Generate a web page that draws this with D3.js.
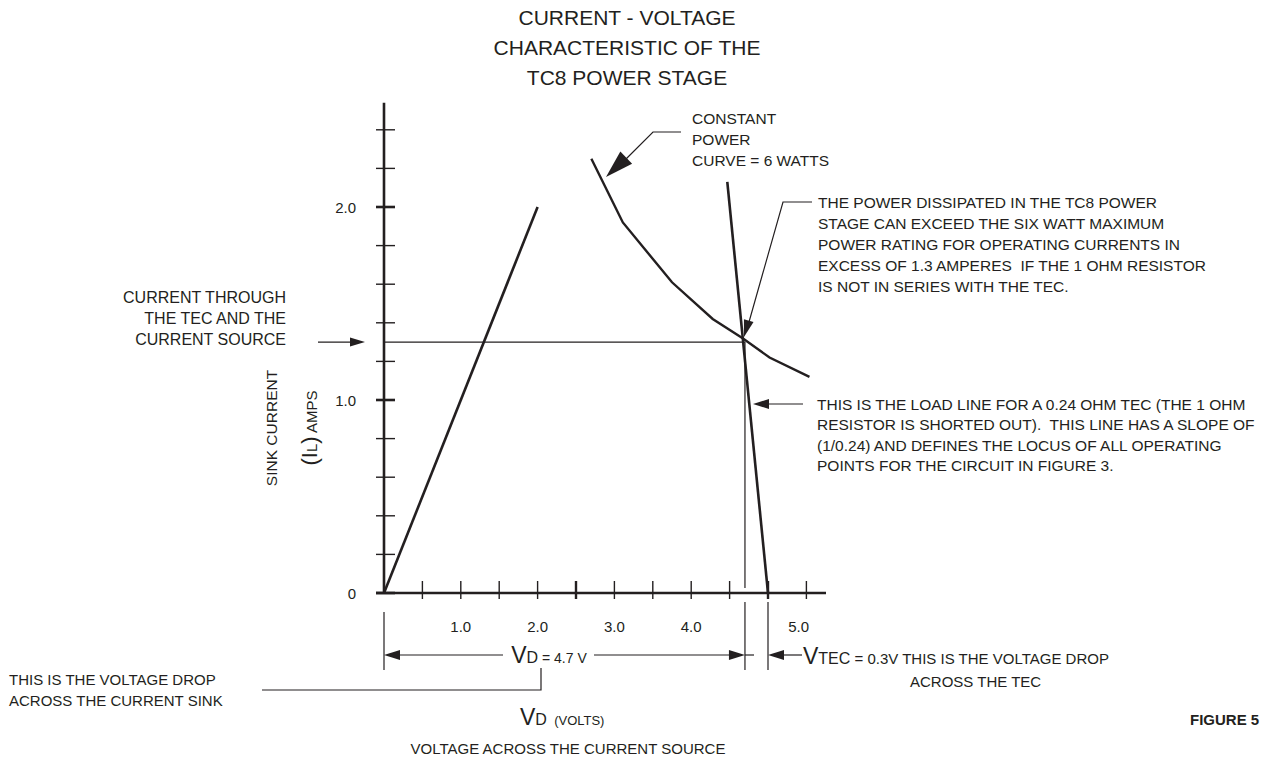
<!DOCTYPE html>
<html><head><meta charset="utf-8">
<script src="https://cdn.jsdelivr.net/npm/d3@7"></script>
<style>body{margin:0;background:#fff}svg{display:block}text{font-family:"Liberation Sans",Arial,sans-serif;fill:#231f20;white-space:pre}</style>
</head><body><svg id="c" width="1279" height="759"></svg>
<script>
// ---- data ----
const titleLines = ["CURRENT - VOLTAGE", "CHARACTERISTIC OF THE", "TC8 POWER STAGE"];
const xMinorTicks = [0.5, 1.0, 1.5, 2.0, 2.5, 3.0, 3.5, 4.0, 4.5, 5.0, 5.5];
const xMajorTicks = [2.5, 5.0];
const xTickLabels = ["1.0", "2.0", "3.0", "4.0", "5.0"];
const xTickLabelValues = [1.0, 2.0, 3.0, 4.0, 5.4];
const yMinorTicks = [0.2, 0.4, 0.6, 0.8, 1.2, 1.4, 1.6, 1.8, 2.2, 2.4];
const yMajorTicks = [0, 1.0, 2.0];
const yTickLabels = ["0", "1.0", "2.0"];
const sinkLine = [[0, 0], [2.0, 2.0]];
const powerCurve = [[2.70, 2.25], [3.11, 1.92], [3.75, 1.61], [4.28, 1.42], [4.67, 1.32], [5.02, 1.22], [5.54, 1.12]];
const loadLine = [[4.47, 2.13], [5.0, 0]];
const operatingPoint = [4.7, 1.3];
const tecEnd = 5.0;
const powerNote = ["THE POWER DISSIPATED IN THE TC8 POWER", "STAGE CAN EXCEED THE SIX WATT MAXIMUM", "POWER RATING FOR OPERATING CURRENTS IN", "EXCESS OF 1.3 AMPERES  IF THE 1 OHM RESISTOR", "IS NOT IN SERIES WITH THE TEC."];
const loadNote = ["THIS IS THE LOAD LINE FOR A 0.24 OHM TEC (THE 1 OHM", "RESISTOR IS SHORTED OUT).  THIS LINE HAS A SLOPE OF", "(1/0.24) AND DEFINES THE LOCUS OF ALL OPERATING", "POINTS FOR THE CIRCUIT IN FIGURE 3."];
const currentNote = ["CURRENT THROUGH", "THE TEC AND THE", "CURRENT SOURCE"];
const constNote = ["CONSTANT", "POWER", "CURVE = 6 WATTS"];
const sinkNote = ["THIS IS THE VOLTAGE DROP", "ACROSS THE CURRENT SINK"];

// ---- drawing ----
const svg = d3.select("#c");
const x = d3.scaleLinear().domain([0, 5]).range([384, 768]);
const y = d3.scaleLinear().domain([0, 2]).range([593, 207]);
const ink = "#231f20";

function arrow(tip, dx, dy, len, wid) {
  const n = Math.hypot(dx, dy), ux = dx / n, uy = dy / n;
  const bx = tip[0] - ux * len, by = tip[1] - uy * len;
  const px = -uy * wid / 2, py = ux * wid / 2;
  svg.append("path").attr("d", `M${tip[0]},${tip[1]}L${bx + px},${by + py}L${bx - px},${by - py}Z`).attr("fill", ink);
}
function seg(pts, w) {
  svg.append("path").attr("d", d3.line()(pts)).attr("fill", "none").attr("stroke", ink).attr("stroke-width", w || 1.2);
}
function lines(arr, x0, y0, dy, size, anchor) {
  const t = svg.append("text").attr("font-size", size).attr("text-anchor", anchor || "start");
  arr.forEach((s, i) => t.append("tspan").attr("x", x0).attr("y", y0 + i * dy).text(s));
  return t;
}

// title
lines(titleLines, 627, 25, 30, 21, "middle");

// axes
seg([[x(0), y(2.54)], [x(0), y(0)]], 2.6);
seg([[376, y(0)], [826, y(0)]], 2.6);
svg.selectAll(".yt").data(yMinorTicks).join("line").attr("x1", 376).attr("x2", 395)
  .attr("y1", d => y(d)).attr("y2", d => y(d)).attr("stroke", ink).attr("stroke-width", 1.4);
svg.selectAll(".ytM").data(yMajorTicks).join("line").attr("x1", 376).attr("x2", 395)
  .attr("y1", d => y(d)).attr("y2", d => y(d)).attr("stroke", ink).attr("stroke-width", 2.6);
svg.selectAll(".ytl").data(yTickLabels).join("text").attr("x", 356).attr("y", (d, i) => y(yMajorTicks[i]) + 5.5)
  .attr("text-anchor", "end").attr("font-size", 15).text(d => d);
svg.selectAll(".xt").data(xMinorTicks).join("line").attr("x1", d => x(d)).attr("x2", d => x(d))
  .attr("y1", 581).attr("y2", 599).attr("stroke", ink).attr("stroke-width", d => xMajorTicks.includes(d) ? 2.4 : 1.4);
svg.selectAll(".xtl").data(xTickLabels).join("text").attr("x", (d, i) => x(xTickLabelValues[i])).attr("y", 632)
  .attr("text-anchor", "middle").attr("font-size", 15).text(d => d);

// axis titles
svg.append("text").attr("transform", "translate(277,428) rotate(-90)").attr("text-anchor", "middle")
  .attr("font-size", 15.5).text("SINK CURRENT");
const yl = svg.append("text").attr("transform", "translate(317,428) rotate(-90)").attr("text-anchor", "middle");
yl.append("tspan").attr("font-size", 22).text("(I");
yl.append("tspan").attr("font-size", 15).text("L");
yl.append("tspan").attr("font-size", 22).text(")");
yl.append("tspan").attr("font-size", 15).text(" AMPS");

// curves
seg(sinkLine.map(d => [x(d[0]), y(d[1])]), 2.6);
seg(powerCurve.map(d => [x(d[0]), y(d[1])]), 2.4);
seg(loadLine.map(d => [x(d[0]), y(d[1])]), 2.6);

// operating point guides
const ox = x(operatingPoint[0]), oy = y(operatingPoint[1]);
seg([[x(0), oy], [ox, oy]], 1.2);
seg([[ox, oy], [ox, 588]], 1.2);
seg([[ox, 602], [ox, 670]], 1.2);
seg([[x(tecEnd), 602], [x(tecEnd), 670]], 1.2);
seg([[x(0), 612], [x(0), 670]], 1.2);

// current note
lines(currentNote, 286, 303, 21, 16, "end");
seg([[318, oy], [352, oy]], 1.2);
arrow([365, oy], 1, 0, 15, 9);

// constant power note
lines(constNote, 692, 124, 21, 15.5);
seg([[681, 132], [653, 132], [625, 160]], 1.2);
arrow([606, 177], -47, 45, 28, 17);

// power dissipated note
lines(powerNote, 818, 208, 21, 15.5);
seg([[812, 202], [783, 202], [749, 322]], 1.2);
arrow([744, 337], -39, 135, 17, 10);

// load line note
lines(loadNote, 817, 409.5, 20.5, 15.5);
seg([[803, 404], [768, 404]], 1.2);
arrow([753, 404], -1, 0, 16, 10);

// VD dimension
const dimY = 655;
seg([[x(0) + 14, dimY], [503, dimY]], 1.2);
arrow([x(0), dimY], -1, 0, 16, 10);
seg([[594, dimY], [ox - 14, dimY]], 1.2);
arrow([ox, dimY], 1, 0, 16, 10);
const vd = svg.append("text").attr("x", 549).attr("y", 663).attr("text-anchor", "middle");
vd.append("tspan").attr("font-size", 23).text("V");
vd.append("tspan").attr("font-size", 16).text("D");
vd.append("tspan").attr("font-size", 14).text(" = 4.7 V");

// VTEC dimension
seg([[ox, dimY], [x(tecEnd) - 14, dimY]], 1.2);
seg([[x(tecEnd) + 14, dimY], [802, dimY]], 1.2);
arrow([x(tecEnd), dimY], -1, 0, 16, 10);
const vt = svg.append("text").attr("x", 803).attr("y", 664);
vt.append("tspan").attr("font-size", 23).text("V");
vt.append("tspan").attr("font-size", 16).text("TEC");
vt.append("tspan").attr("font-size", 15).text(" = 0.3V THIS IS THE VOLTAGE DROP");
svg.append("text").attr("x", 910).attr("y", 687).attr("font-size", 15).text("ACROSS THE TEC");

// sink note
lines(sinkNote, 9, 685, 21, 15);
seg([[262, 690], [541, 690], [541, 668]], 1.2);

// x axis title
const xl = svg.append("text").attr("x", 520).attr("y", 725);
xl.append("tspan").attr("font-size", 23).text("V");
xl.append("tspan").attr("font-size", 16).text("D");
xl.append("tspan").attr("font-size", 13).text("  (VOLTS)");
svg.append("text").attr("x", 568).attr("y", 754).attr("text-anchor", "middle").attr("font-size", 15)
  .text("VOLTAGE ACROSS THE CURRENT SOURCE");

svg.append("text").attr("x", 1190).attr("y", 725).attr("font-size", 15).attr("font-weight", "bold").text("FIGURE 5");
</script></body></html>
